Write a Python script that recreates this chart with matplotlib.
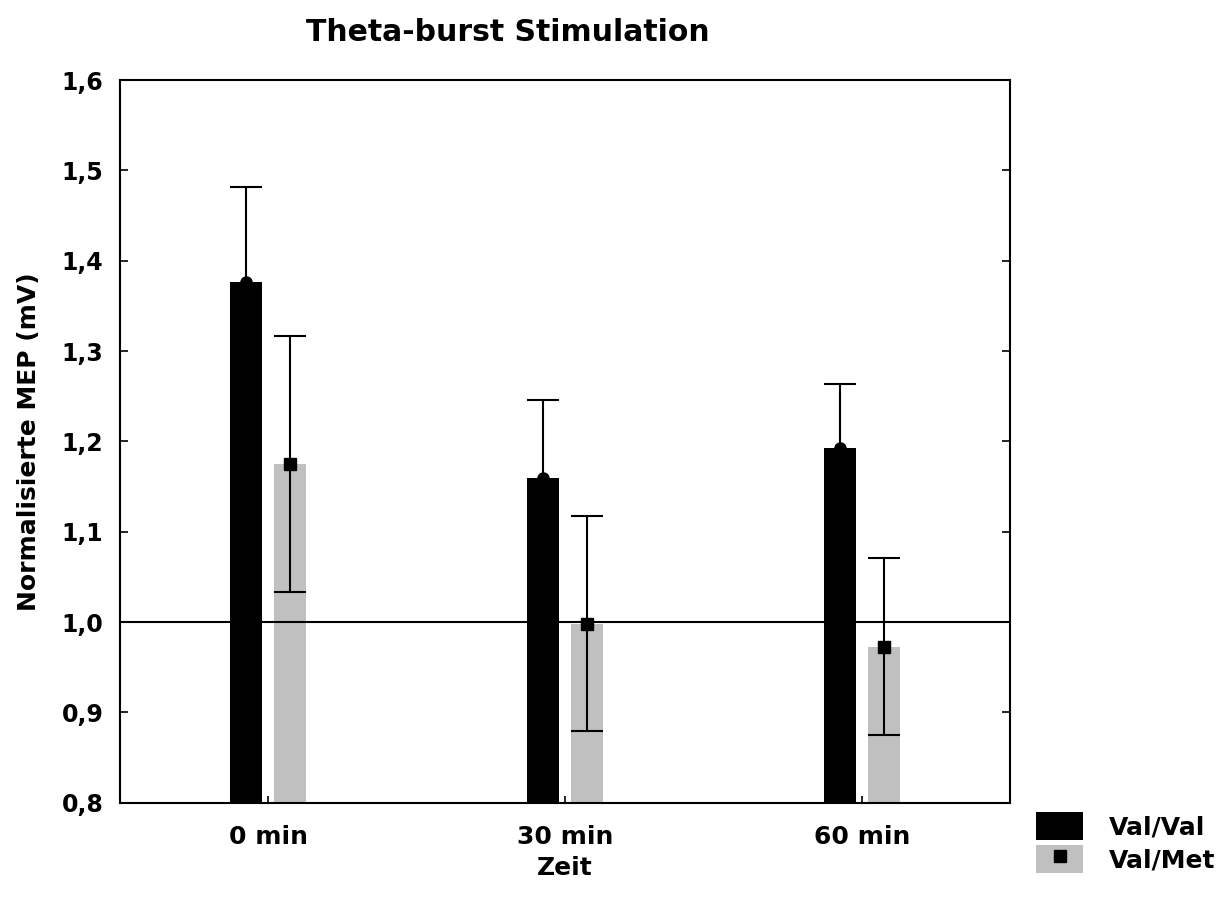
import matplotlib.pyplot as plt
from matplotlib.patches import Patch
from matplotlib.lines import Line2D
import numpy as np

plt.rcParams['font.family'] = ['DejaVu Sans']
plt.rcParams['font.weight'] = 'bold'

categories = ['0 min', '30 min', '60 min']
valval = [1.377, 1.159, 1.193]
valval_err = [0.105, 0.087, 0.071]
valmet = [1.175, 0.998, 0.973]
valmet_err = [0.142, 0.119, 0.098]
yticks = [0.8, 0.9, 1.0, 1.1, 1.2, 1.3, 1.4, 1.5, 1.6]

fig = plt.figure(figsize=(12.26, 9), dpi=100)
ax = fig.add_axes([0.0979, 0.108, 0.726, 0.803])

x = np.arange(len(categories))
w = 0.108
off = 0.074

ax.bar(x - off, valval, width=w, color='black', zorder=2)
ax.bar(x + off, valmet, width=w, color='#c0c0c0', zorder=2)
ax.axhline(1.0, color='black', lw=1.5, zorder=3)

ax.errorbar(x - off, valval, yerr=valval_err, fmt='o', color='black', ms=8,
            ecolor='black', elinewidth=1.5, capsize=11.5, capthick=1.5, zorder=4)
ax.errorbar(x + off, valmet, yerr=valmet_err, fmt='s', color='black', ms=8,
            ecolor='black', elinewidth=1.5, capsize=11.5, capthick=1.5, zorder=4)

ax.set_xlim(-0.5, 2.5)
ax.set_ylim(0.8, 1.6)
ax.set_xticks(x)
ax.set_xticklabels(categories, fontsize=18, fontweight='bold')
ax.set_yticks(yticks)
ax.set_yticklabels([f'{v:.1f}'.replace('.', ',') for v in yticks], fontsize=17, fontweight='bold')
ax.tick_params(axis='y', direction='in', right=True, length=6, width=1.2, pad=12)
ax.tick_params(axis='x', direction='in', length=5, width=1.2, pad=16)
for s in ax.spines.values():
    s.set_linewidth(1.5)

ax.set_xlabel('Zeit', fontsize=18, fontweight='bold', labelpad=5)
ax.set_ylabel('Normalisierte MEP (mV)', fontsize=18, fontweight='bold', labelpad=15)
fig.text(0.414, 0.964, 'Theta-burst Stimulation', ha='center', va='center',
         fontsize=21.5, fontweight='bold')

handles = [Patch(facecolor='black'),
           (Patch(facecolor='#c0c0c0'),
            Line2D([], [], marker='s', color='black', ls='none', ms=8))]
fig.legend(handles, ['Val/Val', 'Val/Met'], loc='upper left',
           bbox_to_anchor=(0.845, 0.098), frameon=False, fontsize=18,
           handlelength=1.9, handleheight=1.35, handletextpad=1.0,
           labelspacing=0.2, borderaxespad=0, borderpad=0)

fig.savefig('out.png', dpi=100)
